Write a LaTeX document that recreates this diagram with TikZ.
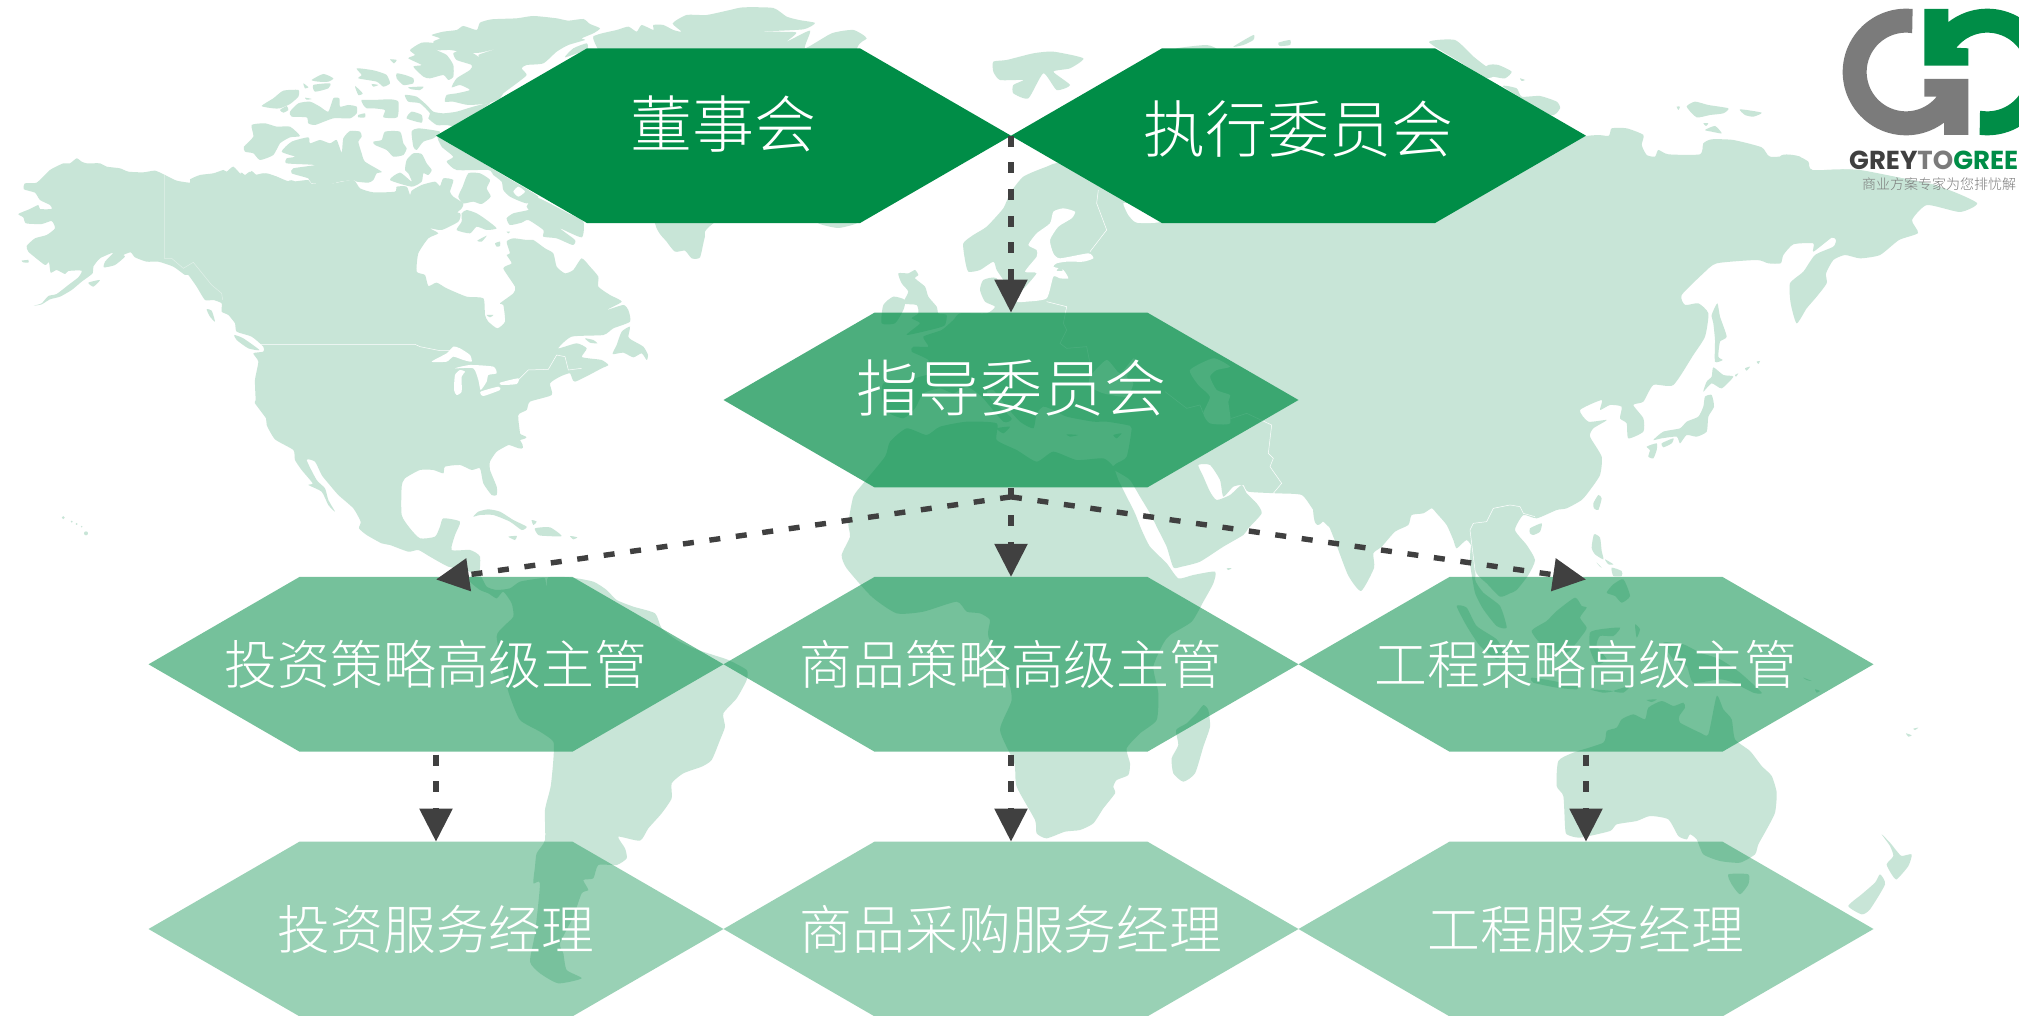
\documentclass[tikz,border=0pt]{standalone}
\usepackage{fontspec}
\usetikzlibrary{arrows.meta,calc}
\newfontfamily\cjk{Noto Sans CJK SC Light}
\newfontfamily\logofont{Poppins}
\definecolor{hexgreen}{HTML}{008D47}
\definecolor{landc}{HTML}{C8E5D7}
\definecolor{arrowc}{HTML}{404040}
\definecolor{logogray}{HTML}{7B7B7B}
\tikzset{
  land/.style={fill=landc},
  hexa/.style={rectangle,minimum width=575pt,minimum height=174.7pt,inner sep=0pt,outer sep=0pt,text=white,
    path picture={\fill[hexgreen,fill opacity=#1]
      (path picture bounding box.west)
      -- ($(path picture bounding box.north west)+(151,0)$)
      -- ($(path picture bounding box.north east)+(-151,0)$)
      -- (path picture bounding box.east)
      -- ($(path picture bounding box.south east)+(-151,0)$)
      -- ($(path picture bounding box.south west)+(151,0)$)
      -- cycle;}},
  bigt/.style={font=\cjk\fontsize{62}{62}\selectfont},
  smallt/.style={font=\cjk\fontsize{52.8}{53}\selectfont},
  link/.style={draw=arrowc,line width=5.4pt,dash pattern=on 11pt off 15.7pt,-{Triangle[length=33pt,width=32pt,fill=arrowc]}},
}
\newcommand\ld[1]{\fill[land] plot[smooth cycle,tension=.35] coordinates {#1};}
\newcommand\wt[1]{\fill[white] plot[smooth cycle,tension=.35] coordinates {#1};}
\newcommand\bd[1]{\draw[white,line width=.5pt] plot coordinates {#1};}
\newcommand\crp[3]{\begin{scope}[shift={(#1,#2)},x=.33333pt,y=-.33333pt]#3\end{scope}}
\newcommand\lift[2]{\raisebox{#1}[\height][\depth]{#2}}
\begin{document}
\begin{tikzpicture}[x=1pt,y=-1pt]
\useasboundingbox (0,0) rectangle (2019,1016);
\fill[white] (0,0) rectangle (2019,1016);
\clip (0,0) rectangle (2019,1016);
% ---------- map: land
\crp{0}{140}{
\ld{(75,130)(110,128)(150,90)(190,70)(210,70)(230,55)(245,65)(260,70)(300,70)(320,80)(360,85)(385,95)(430,97)(465,92)(495,105)(530,122)(570,128)(570,118)(600,105)(640,100)(670,90)(680,95)(700,80)(725,105)(745,105)(755,93)(770,105)(800,100)(830,110)(860,125)(900,135)(1200,400)(1560,900)(1525,915)(1490,935)(1470,965)(1470,990)(1490,1040)(1490,1065)(1475,1065)(1450,1030)(1440,985)(1415,990)(1380,975)(1335,980)(1330,1000)(1300,990)(1260,990)(1215,1015)(1205,1040)(1205,1125)(1230,1165)(1260,1195)(1305,1190)(1320,1160)(1330,1135)(1380,1145)(1365,1185)(1355,1230)(1410,1230)(1440,1250)(1435,1310)(1400,1290)(1345,1280)(1290,1250)(1255,1230)(1225,1235)(1170,1215)(1145,1210)(1100,1185)(1077,1165)(1082,1145)(1060,1105)(1015,1065)(985,1030)(965,1005)(945,965)(920,960)(950,1020)(975,1045)(985,1080)(1005,1115)(985,1095)(965,1055)(925,1035)(938,1030)(905,990)(885,960)(880,930)(825,898)(800,855)(798,835)(765,790)(767,780)(765,720)(775,665)(760,640)(790,635)(790,620)(755,590)(710,575)(705,550)(685,525)(665,515)(665,490)(640,480)(615,480)(590,440)(565,405)(555,405)(520,380)(475,365)(440,365)(405,352)(392,337)(370,345)(375,350)(345,375)(312,382)(315,365)(340,338)(300,355)(280,380)(278,400)(245,425)(215,450)(180,470)(150,478)(125,493)(102,497)(125,490)(145,468)(170,462)(205,435)(235,412)(245,392)(205,393)(195,402)(170,390)(152,398)(147,367)(135,375)(100,348)(85,335)(80,318)(105,295)(140,285)(165,265)(155,243)(125,252)(78,250)(70,232)(55,222)(90,207)(115,195)(120,207)(155,207)(150,195)(120,180)(105,158)(72,148)}
\ld{(703,585)(730,595)(778,630)(745,625)(710,600)}
\ld{(620,508)(635,512)(645,545)(630,530)}
\ld{(65,362)(85,360)(85,368)(70,367)}
\ld{(265,428)(300,420)(280,440)}
\fill[land] (190,1133) circle[radius=1.5pt] (215,1145) circle[radius=1pt] (230,1152) circle[radius=1pt] (245,1160) circle[radius=.8pt] (258,1180) circle[radius=2pt];
}
\crp{240}{0}{
\ld{(0,525)(15,525)(30,515)(45,525)(70,520)(110,530)(150,545)(205,540)(215,552)(280,550)(340,540)(360,565)(400,577)(465,575)(470,560)(500,560)(510,585)(515,572)(545,555)(585,545)(600,558)(610,535)(640,540)(630,575)(640,590)(670,610)(665,625)(645,640)(610,630)(660,640)(655,665)(605,690)(570,685)(595,700)(565,715)(535,760)(530,815)(555,825)(565,858)(590,848)(620,865)(680,890)(730,895)(735,945)(745,965)(772,985)(795,965)(790,915)(780,910)(820,880)(825,860)(790,805)(815,790)(800,765)(810,760)(800,725)(820,715)(860,720)(880,720)(915,745)(940,760)(950,800)(975,820)(1000,810)(1025,775)(1050,800)(1075,830)(1075,860)(1110,885)(1145,905)(1100,930)(1150,915)(1165,930)(1170,965)(1120,985)(1090,1005)(995,1010)(955,1045)(1010,1030)(1040,1045)(1025,1070)(1045,1075)(1085,1080)(1105,1095)(1085,1105)(1005,1145)(990,1120)(960,1130)(930,1150)(935,1185)(870,1205)(860,1230)(835,1245)(840,1300)(840,1320)(400,1400)(0,700)}
\ld{(1170,980)(1145,995)(1130,1035)(1118,1062)(1150,1058)(1180,1072)(1205,1060)(1220,1080)(1224,1065)(1210,1040)(1175,1020)(1165,1010)}
\ld{(1035,1015)(1060,1020)(1072,1030)(1050,1028)}
% Greenland
\ld{(1065,130)(1070,105)(1130,90)(1165,80)(1190,95)(1205,75)(1240,90)(1240,75)(1270,75)(1300,90)(1325,95)(1298,70)(1340,45)(1400,45)(1470,30)(1510,22)(1600,24)(1640,50)(1677,60)(1725,69)(1690,88)(1560,95)(1668,97)(1640,125)(1710,92)(1695,145)(1775,100)(1840,90)(1880,115)(1850,148)(1800,400)(1420,670)(1395,710)(1380,772)(1355,775)(1335,752)(1305,755)(1280,725)(1245,670)(1200,400)}
% Ellesmere and Arctic islands
\ld{(575,105)(610,95)(650,90)(670,78)(710,90)(720,68)(755,58)(830,55)(880,48)(950,55)(985,62)(1030,57)(1050,72)(1080,85)(1060,100)(1025,115)(1035,120)(985,135)(950,155)(910,190)(860,195)(845,205)(860,225)(830,250)(790,280)(780,295)(745,310)(685,315)(640,305)(615,305)(620,285)(650,280)(690,270)(660,255)(635,262)(650,235)(690,210)(695,195)(650,180)(640,160)(660,152)(700,160)(735,185)(715,165)(775,145)(720,158)(680,158)(630,150)(590,150)(580,125)(600,115)}
\ld{(975,172)(1040,148)(1040,130)(1000,145)}
\ld{(510,150)(545,128)(585,130)(590,150)(620,165)(640,195)(640,230)(625,240)(610,225)(570,235)(550,230)(520,200)(545,195)(505,175)(525,165)}
\ld{(450,178)(470,180)(462,190)}
\ld{(350,205)(395,210)(415,215)(440,225)(450,250)(430,260)(410,245)(355,235)(365,225)}
\ld{(470,220)(495,225)(520,235)(520,250)(490,255)(470,235)}
\ld{(505,262)(550,260)(540,270)(515,268)}
\ld{(345,258)(368,280)(355,285)}
\ld{(395,252)(415,255)(400,260)}
\ld{(215,240)(250,222)(280,235)(265,245)(235,245)}
\ld{(190,250)(205,262)(195,265)}
\ld{(220,255)(270,250)(265,265)(225,275)}
\ld{(495,285)(530,290)(560,315)(580,335)(610,340)(650,335)(700,320)(750,310)(650,375)(620,375)(590,375)(565,355)(570,340)(540,310)(505,305)}
\ld{(515,335)(545,345)(545,368)(500,355)}
\ld{(365,300)(400,300)(450,298)(475,305)(472,352)(430,352)(435,330)(400,325)(380,325)(370,315)}
\ld{(355,345)(375,340)(375,352)(355,352)}
\ld{(65,318)(100,295)(130,272)(175,270)(175,290)(150,312)(120,325)(100,325)}
\ld{(195,293)(215,297)(200,299)}
\ld{(120,330)(140,318)(145,330)(130,338)}
\ld{(150,335)(175,310)(210,305)(240,320)(265,335)(280,295)(298,295)(300,320)(325,315)(350,320)(350,340)(330,355)(280,355)(225,375)(205,370)(200,352)(155,350)}
\ld{(35,375)(75,370)(110,380)(150,380)(180,408)(150,412)(120,430)(100,465)(60,480)(40,460)(15,455)(12,440)(40,410)}
\ld{(125,455)(155,425)(205,412)(210,430)(240,420)(270,430)(290,420)(305,458)(310,415)(330,393)(360,395)(365,410)(355,425)(365,460)(375,485)(425,515)(410,520)(400,540)(385,548)(350,545)(340,540)(300,545)(270,552)(215,550)(205,535)(155,520)(160,505)(225,495)(140,490)(140,475)(165,470)}
\ld{(400,425)(425,420)(435,395)(480,395)(490,430)(500,445)(490,465)(460,470)(440,450)(405,435)}
\ld{(515,395)(535,385)(600,395)(580,415)(550,425)(530,450)(520,440)}
\ld{(500,480)(520,460)(545,462)(560,490)(575,510)(565,525)(550,520)(545,545)(515,560)(450,540)(480,518)(515,545)(505,520)(495,510)}
\ld{(605,440)(640,470)(620,485)(650,510)(745,510)(760,525)(785,545)(790,570)(810,590)(860,610)(895,590)(780,520)(600,410)}
\ld{(685,520)(720,520)(750,540)(740,565)(752,590)(725,612)(700,605)(670,610)(655,590)(668,560)}
\ld{(800,655)(820,640)(865,630)(860,620)(885,590)(985,640)(1030,665)(1025,712)(960,685)(1005,720)(998,735)(950,715)(910,710)(910,690)(865,660)(845,668)(810,675)}
\ld{(665,640)(680,630)(710,640)(740,660)(770,685)(740,690)(710,680)(690,700)(650,690)(665,665)}
\ld{(712,722)(740,707)(725,725)}
\ld{(765,730)(780,725)(780,738)(770,740)}
\ld{(800,695)(810,695)(805,700)}
}
\crp{340}{500}{
% Antilles
\ld{(400,50)(415,35)(445,28)(480,35)(520,60)(560,80)(545,90)(510,65)(460,45)(420,45)}
\ld{(585,85)(630,82)(665,108)(620,108)(595,105)}
\ld{(505,110)(530,108)(525,120)}
\ld{(690,108)(712,112)(700,118)}
\ld{(575,60)(590,65)(580,75)}
% South America
\ld{(395,225)(420,225)(440,260)(470,270)(510,265)(540,245)(600,235)(615,235)(620,262)(625,232)(690,232)(760,245)(800,270)(830,300)(880,320)(945,340)(965,385)(1010,420)(1060,445)(1120,465)(1165,480)(1220,510)(1220,540)(1190,595)(1150,640)(1155,680)(1140,720)(1115,780)(1085,800)(1030,820)(995,850)(995,895)(965,940)(925,985)(900,1022)(835,1010)(855,1045)(860,1075)(830,1095)(775,1095)(760,1135)(730,1140)(745,1170)(725,1180)(700,1250)(660,1330)(670,1360)(680,1410)(725,1435)(655,1450)(600,1420)(570,1385)(585,1300)(600,1150)(580,1150)(585,1100)(590,1060)(615,1020)(615,930)(632,860)(640,780)(640,725)(600,695)(540,660)(510,590)(490,520)(470,410)(490,380)(520,350)(515,310)(490,275)(470,295)(445,280)(420,270)(390,245)}
}
\crp{840}{30}{
% Svalbard and Arctic
\ld{(460,95)(500,90)(580,70)(640,65)(730,85)(690,115)(640,125)(690,165)(650,180)(610,130)(565,205)(520,190)(520,165)(550,150)(480,150)(460,125)}
\ld{(1180,50)(1240,15)(1240,30)(1210,45)}
\ld{(1315,38)(1350,30)(1350,45)(1320,48)}
\ld{(1010,55)(1100,45)(1130,60)(1010,70)}
\ld{(-66,579)(-6,594)(51,579)(0,560)}
% GB and Ireland
\ld{(175,730)(205,730)(225,720)(235,735)(225,745)(255,770)(265,800)(290,830)(295,850)(320,855)(315,885)(290,895)(200,915)(240,880)(215,865)(235,850)(230,825)(190,820)(205,785)(185,760)}
\ld{(130,825)(160,800)(195,810)(190,840)(165,880)(125,880)}
% Europe, Near East
\ld{(660,400)(620,410)(550,440)(510,490)(490,535)(440,590)(400,615)(370,640)(375,690)(385,725)(420,720)(460,695)(470,720)(490,750)(510,790)(505,820)(470,745)(430,750)(420,780)(435,815)(465,830)(440,850)(360,850)(340,870)(305,900)(250,920)(265,950)(220,950)(215,965)(265,990)(270,1030)(240,1040)(180,1060)(130,1060)(125,1100)(140,1145)(190,1165)(225,1135)(250,1090)(300,1075)(340,1090)(380,1070)(425,1100)(490,1175)(515,1165)(455,1110)(440,1085)(460,1080)(500,1130)(540,1175)(580,1195)(590,1150)(610,1130)(640,1140)(680,1160)(760,1175)(800,1175)(860,1185)(875,1195)(860,1280)(830,1300)(815,1315)(840,1330)(870,1350)(900,1400)(930,1450)(955,1500)(980,1550)(1000,1612)(1025,1610)(1080,1595)(1150,1550)(1210,1515)(1225,1495)(1265,1450)(1250,1420)(1220,1390)(1205,1365)(1170,1395)(1130,1410)(1110,1385)(1090,1340)(1075,1305)(1110,1305)(1140,1350)(1150,1400)(1180,1370)(1210,1365)(1225,1385)(1310,1390)(1385,1395)(1420,1440)(1445,1470)(1490,1500)(1560,1400)(1560,500)(1000,450)(770,450)}
\ld{(680,1213)(715,1215)(690,1220)}
\ld{(820,1215)(845,1210)(830,1225)}
\ld{(470,1195)(510,1190)(490,1210)}
}
\crp{820}{480}{
% Africa
\ld{(85,130)(100,50)(130,10)(195,-70)(210,-115)(260,-155)(320,-135)(360,-160)(440,-175)(530,-170)(530,-120)(590,-90)(650,-55)(700,-85)(770,-60)(850,-65)(880,-40)(895,0)(920,50)(945,100)(965,150)(990,200)(1040,250)(1075,295)(1120,285)(1185,275)(1180,310)(1150,365)(1115,425)(1050,465)(1030,490)(1000,560)(1015,640)(1010,720)(960,760)(920,805)(930,850)(925,885)(890,900)(880,920)(885,940)(850,985)(820,1030)(780,1050)(735,1055)(680,1075)(650,1060)(645,1020)(590,920)(583,850)(540,750)(575,660)(560,580)(505,470)(510,420)(480,400)(440,395)(410,365)(310,395)(230,400)(155,350)(80,265)(65,225)(90,170)}
\ld{(1150,675)(1165,690)(1170,740)(1150,800)(1125,880)(1090,905)(1060,880)(1055,835)(1075,795)(1068,750)(1100,730)(1130,700)}
\ld{(1220,265)(1235,265)(1225,270)}
}
\crp{1340}{60}{
% Asia east
\ld{(300,300)(740,228)(805,228)(815,205)(860,205)(910,225)(905,255)(920,285)(945,290)(955,270)(985,283)(1080,283)(1090,250)(1115,238)(1180,240)(1265,262)(1290,290)(1370,288)(1405,305)(1418,330)(1560,330)(1800,381)(1911,429)(1860,456)(1761,435)(1716,480)(1734,519)(1677,540)(1620,585)(1560,595)(1515,585)(1480,600)(1458,640)(1460,670)(1430,710)(1400,745)(1370,790)(1352,730)(1350,670)(1390,635)(1425,585)(1480,560)(1488,540)(1475,533)(1420,575)(1420,550)(1360,553)(1330,585)(1322,610)(1285,610)(1250,600)(1130,610)(1090,640)(1025,705)(1035,735)(1075,730)(1105,760)(1095,830)(1060,885)(1000,975)(940,975)(910,1025)(880,1035)(910,1075)(910,1115)(865,1135)(860,1090)(840,1075)(845,1040)(810,1035)(780,1050)(785,1020)(720,1050)(745,1085)(800,1080)(760,1105)(750,1130)(785,1190)(780,1245)(750,1290)(725,1320)(680,1345)(650,1350)(590,1375)(550,1365)(525,1410)(560,1455)(585,1500)(565,1545)(530,1590)(510,1600)(480,1610)(440,1570)(410,1540)(400,1470)(380,1440)(350,1465)(340,1440)(320,1395)(290,1360)(275,1345)(250,1360)(215,1365)(205,1395)(165,1415)(125,1460)(100,1480)(102,1524)(63,1593)(24,1545)(-15,1443)(-42,1380)(-81,1344)(-81,400)(-100,300)}
\ld{(267,-54)(345,-60)(402,-9)(440,20)(480,36)(441,54)(350,0)}
\ld{(415,40)(445,15)(475,15)(515,35)(495,55)(460,50)}
\ld{(490,80)(530,85)(545,110)(600,108)(650,125)(660,145)(630,165)}
\ld{(540,55)(555,60)(545,63)}
\ld{(1040,140)(1065,125)(1105,135)(1165,145)(1150,160)(1110,165)(1070,172)}
\ld{(1200,148)(1265,158)(1240,170)(1215,165)}
\ld{(1095,210)(1125,198)(1145,220)(1115,215)}
\ld{(1090,190)(1105,190)(1098,198)}
\ld{(1010,140)(1020,140)(1015,150)}
\ld{(1132,730)(1140,770)(1160,830)(1140,845)(1135,890)(1148,900)(1125,905)(1125,840)(1120,790)(1115,765)}
\ld{(1120,922)(1150,945)(1180,950)(1145,985)(1115,970)(1090,995)(1100,965)(1115,950)}
\ld{(1095,1010)(1115,1005)(1122,1040)(1105,1070)(1100,1115)(1070,1130)(1040,1125)(1020,1150)(1010,1130)(965,1135)(940,1140)(970,1115)(1020,1105)(1040,1085)(1075,1070)(1090,1040)}
\ld{(920,1160)(950,1150)(950,1170)(940,1195)(925,1190)(930,1170)}
\ld{(965,1150)(1000,1135)(995,1150)(970,1162)}
\ld{(775,1305)(785,1315)(775,1350)(762,1345)(760,1330)}
\ld{(570,1405)(605,1390)(600,1415)(580,1425)(570,1420)}
\ld{(1185,945)(1195,940)(1188,950)}
\ld{(1215,925)(1230,920)(1220,932)}
\ld{(1250,905)(1260,903)(1255,912)}
}
\crp{1400}{496}{
\ld{(582,115)(600,125)(605,165)(610,190)(585,175)(575,155)}
\ld{(590,200)(605,215)(598,210)}
\ld{(615,190)(640,205)(625,205)}
\ld{(635,215)(665,225)(665,240)(640,240)}
\ld{(620,290)(640,265)(670,250)(690,300)(665,320)(645,300)}
\ld{(215,145)(240,190)(225,250)(250,290)(300,330)(320,395)(290,390)(250,340)(225,290)(210,200)}
\ld{(310,245)(400,190)(395,215)(360,250)(330,275)}
\ld{(170,330)(200,335)(230,390)(290,430)(310,470)(290,490)(240,450)(200,390)}
\ld{(395,405)(440,375)(470,345)(525,305)(545,330)(560,335)(540,365)(560,395)(545,420)(500,470)(430,450)}
\ld{(570,410)(600,400)(660,395)(640,420)(600,420)(590,450)(620,490)(590,505)(570,460)}
\ld{(790,440)(850,445)(900,470)(960,490)(1020,530)(1085,590)(1060,590)(1000,560)(960,550)(880,560)(860,510)(820,490)}
\ld{(395,545)(460,555)(530,570)(530,580)(470,575)(400,560)}
\ld{(570,580)(640,585)(610,590)}
\ld{(640,585)(690,570)(670,590)}
\ld{(740,612)(770,610)(755,618)}
\ld{(705,385)(720,400)(710,425)}
\ld{(1210,545)(1235,555)(1220,552)}
\ld{(1245,580)(1260,585)(1250,590)}
\ld{(475,795)(520,770)(610,740)(620,705)(650,695)(665,670)(700,655)(735,670)(745,635)(785,615)(820,630)(850,620)(855,635)(838,660)(840,680)(900,710)(925,715)(950,600)(970,640)(995,670)(1005,730)(1050,765)(1085,810)(1115,840)(1130,890)(1125,950)(1100,1000)(1075,1045)(1065,1075)(1020,1100)(960,1095)(910,1075)(890,1030)(870,1015)(860,1030)(835,1020)(805,970)(750,960)(710,975)(650,985)(630,1005)(540,1025)(500,1015)(495,990)(490,900)(470,870)}
\ld{(985,1135)(1045,1135)(1045,1165)(1020,1195)(995,1165)}
\ld{(1345,1230)(1385,1195)(1425,1160)(1440,1135)(1455,1165)(1410,1240)(1385,1255)}
\ld{(1445,1015)(1470,1040)(1490,1065)(1505,1080)(1535,1075)(1525,1110)(1490,1150)(1475,1135)(1460,1105)(1480,1080)(1470,1050)}
\ld{(1518,712)(1535,718)(1525,722)}
\ld{(1540,698)(1555,695)(1545,702)}
}
\crp{1780}{0}{
\ld{(0,470)(60,470)(95,510)(220,510)(480,560)(300,600)(0,600)}
}
% ---------- map: water and borders
\crp{240}{0}{
\wt{(575,1085)(620,1060)(640,1040)(660,1045)(690,1065)(695,1085)(670,1080)(640,1070)(620,1085)}
\wt{(645,1125)(660,1110)(675,1115)(665,1130)(665,1175)(650,1185)(642,1170)}
\wt{(645,1105)(690,1095)(760,1100)(770,1120)(745,1125)(740,1145)(722,1170)(715,1140)(700,1105)}
\wt{(722,1175)(775,1160)(780,1170)(730,1188)}
\wt{(780,1148)(835,1135)(830,1152)(785,1155)}
\wt{(820,575)(835,560)(855,575)(835,590)}
\bd{(60,1033)(525,1033)(540,1040)(600,1052)(640,1052)}
\bd{(780,1150)(835,1140)(865,1110)(925,1108)(950,1065)(975,1070)(985,1110)(1025,1105)}
\ld{(740,945)(760,945)(750,952)}
}
\crp{0}{140}{
\draw[white!45!landc,line width=.5pt] plot coordinates {(493,105)(493,355)(515,355)(550,385)(580,367)(635,435)(665,460)(668,480)};
}
\crp{840}{30}{
\wt{(565,645)(590,610)(630,580)(640,545)(670,535)(705,545)(695,565)(655,590)(630,630)(640,670)(660,685)(745,670)(760,685)(730,695)(680,695)(650,700)(640,710)(670,720)(685,745)(660,745)(640,740)(620,805)(560,815)(530,815)(540,790)(590,730)(555,725)(590,680)(590,660)}
\ld{(660,712)(668,722)(650,722)}
\wt{(850,520)(880,525)(960,575)(890,578)(865,555)}
\wt{(750,1040)(800,990)(840,1030)(880,985)(885,1000)(860,1040)(880,1060)(860,1100)(790,1090)(750,1070)}
\wt{(1050,1020)(1120,985)(1170,1010)(1130,1020)(1110,1040)(1130,1080)(1170,1095)(1165,1115)(1170,1180)(1110,1180)(1090,1150)(1110,1100)(1075,1065)}
\bd{(775,480)(770,520)(800,600)(750,665)}
\bd{(620,815)(680,830)(670,880)(680,900)(660,940)(680,955)(740,950)(750,1000)}
\bd{(975,1085)(1040,1135)(1080,1125)(1090,1150)(1175,1165)(1220,1150)(1295,1185)(1285,1270)(1300,1285)(1290,1310)(1325,1360)(1300,1390)}
}
\crp{1340}{60}{
\bd{(410,1560)(405,1530)(390,1410)(400,1390)(440,1385)(460,1345)(510,1335)(540,1340)(550,1360)(585,1370)}
}
% ---------- hexagons
\node[hexa=1,bigt] (board) at (723.5,135.7) {\lift{11.7pt}{董事会}};
\node[hexa=1,bigt] (exec) at (1298.5,135.7) {\lift{7pt}{执行委员会}};
\node[hexa=.7,bigt] (steer) at (1011,400) {\lift{12pt}{指导委员会}};
\node[hexa=.54,smallt] (inva) at (436,664.3) {投资策略高级主管};
\node[hexa=.54,smallt] (goda) at (1011,664.3) {商品策略高级主管};
\node[hexa=.54,smallt] (enga) at (1586,664.3) {工程策略高级主管};
\node[hexa=.4,smallt] (invb) at (436,929) {投资服务经理};
\node[hexa=.4,smallt] (godb) at (1011,929) {商品采购服务经理};
\node[hexa=.4,smallt] (engb) at (1586,929) {工程服务经理};
% ---------- connectors
\coordinate (hub) at ($(steer.south)+(0,9.5)$);
\coordinate (tipl) at ($(inva.north)+(0,2.5)$);
\coordinate (tipr) at ($(enga.north)+(0,2.5)$);
\draw[link] (board.east) -- (steer.north);
\draw[link,shorten <=1pt] (steer.south) -- (goda.north);
\draw[link] (hub) -- (tipl);
\draw[link] (hub) -- (tipr);
\draw[link,shorten <=3pt] (inva.south) -- (invb.north);
\draw[link,shorten <=3pt] (goda.south) -- (godb.north);
\draw[link,shorten <=3pt] (enga.south) -- (engb.north);
% ---------- logo
\crp{1780}{0}{
\fill[logogray] plot[domain=84:307,samples=60] ({378+190*cos(\x)},{216-190*sin(\x)}) -- (492,405) -- (565,405) -- (565,237) -- (433,237) -- (433,290) -- (467,290) -- plot[domain=321:81,samples=60] ({378+118*cos(\x)},{216-118*sin(\x)}) -- cycle;
\fill[hexgreen] (433,27) -- (505,27) -- (505,68) -- plot[domain=128:-97,samples=60] ({622+190*cos(\x)},{216-190*sin(\x)}) -- (600,335) -- plot[domain=-100:142,samples=60] ({622+118*cos(\x)},{216-118*sin(\x)}) -- (565,145) -- (565,197) -- (433,197) -- cycle;
}
\node[anchor=base west,inner sep=0pt,font=\logofont\bfseries\fontsize{26}{26}\selectfont] (logoname) at (1849,170) {\textcolor{arrowc}{GREY}\textcolor{logogray}{TO}\textcolor{hexgreen}{GREE}};
\node[anchor=west,inner sep=0pt,text=logogray,font=\cjk\fontsize{14}{14}\selectfont] (logotag) at (1862,184.5) {商业方案专家为您排忧解};
\end{tikzpicture}
\end{document}
